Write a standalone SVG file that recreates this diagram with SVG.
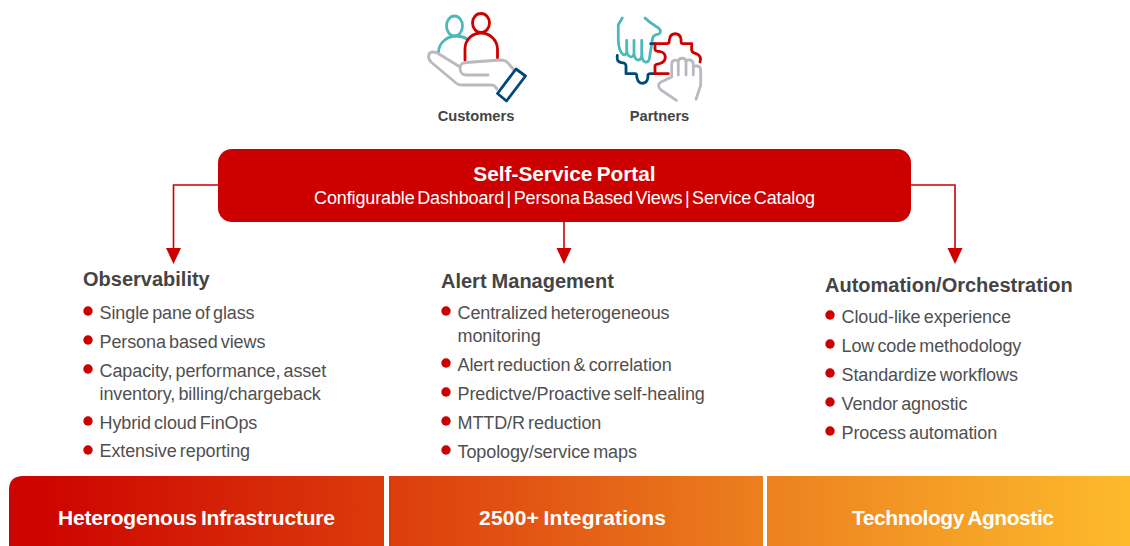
<svg xmlns="http://www.w3.org/2000/svg" width="1130" height="546" viewBox="0 0 1130 546">
<style>
text{font-family:"Liberation Sans",Arial,sans-serif}
.ic{fill:none;stroke-width:2.8;stroke-linecap:round;stroke-linejoin:round}
.teal{stroke:#4db8b8}.red{stroke:#cd0000}.grey{stroke:#b9b9c0}.navy{stroke:#00487c}
.lab{font-size:14.700px;font-weight:700;fill:#444;text-anchor:middle}
.h{font-size:20px;font-weight:700;fill:#444;word-spacing:-.5px}
.b{font-size:18px;fill:#505050;letter-spacing:-.1px;word-spacing:-1.7px}
.dot{fill:#cd0000}
.bt{font-size:21px;font-weight:700;fill:#fff;text-anchor:middle;word-spacing:-1.5px}
.conn{fill:none;stroke:#cd0000;stroke-width:1.6}
.head{fill:#cd0000}
</style>
<defs>
<linearGradient id="g" gradientUnits="userSpaceOnUse" x1="40" y1="0" x2="1130" y2="0">
<stop offset="0" stop-color="#cd0400"/><stop offset=".32" stop-color="#dc3c0c"/><stop offset=".66" stop-color="#ec7f1e"/><stop offset="1" stop-color="#fdbb2c"/>
</linearGradient>
</defs>
<g id="connectors">
<path class="conn" d="M218 185H173.500V248"/>
<path class="conn" d="M564 222V248"/>
<path class="conn" d="M911 185H955V248"/>
<path class="head" d="M166 248H181L173.500 264Z"/>
<path class="head" d="M556.500 248H571.500L564 264Z"/>
<path class="head" d="M947.500 248H962.500L955 264Z"/>
</g>
<g id="customers">
<ellipse class="ic teal" cx="454.500" cy="26" rx="8" ry="10"/>
<path class="ic teal" d="M438.500 52C439 42 448 36 456 36C460 36 464 37 467 39"/>
<ellipse class="ic red" cx="481" cy="23" rx="8.500" ry="9.500"/>
<path class="ic red" d="M465 60V49C465 39 473 33 481 33C489 33 497 39 497.500 49V58"/>
<path class="ic grey" d="M497 89L494 85.500C493 85 492 85 490 85H461C459 85 458 84.500 456 83L431 62C427 58 428 52 433 52C435 52 437 52 439 54L460 67"/>
<path class="ic grey" d="M488 75H466C462 75 460 72 460 68C460 64 462 63 466 62.500L500 60C504 60 506 60.500 508 63L514 70"/>
<path class="ic navy" d="M516 69L525.500 76L506.500 101L497.500 93.500Z"/>
<text class="lab" x="476" y="120.500">Customers</text>
</g>
<g id="partners">
<path class="ic teal" d="M622.300 18L618.300 24.700V40C618.500 46 620 52 623 54.500C625 55.500 626.700 54 626.700 51V40.300M626.700 50C627 58 634 59 634 53V40.300M634 53C634.500 62 641.700 62 641.700 55V40.300M641.700 55C642.500 64 649 64 649.500 58L651.700 43.700L652.700 38C653 35 656 34.500 658.500 34C661 33 661 30.500 659 28.500C654 25 649 22 645 18"/>
<path class="ic navy" d="M650.700 43.700H655M617.300 55.300C616.500 60 618 62 621 62.500C624 63 626 63 626 66V73.700H635C637.500 73.700 636.500 76 637 78C638.500 85 646.500 85 647.800 78C648.200 76 647 73.700 650 73.700H655"/>
<path class="ic red" d="M668.300 73.700H655V66C655 64 657 64.500 660 63.500C667 61.500 667 53 660 51.500C657 51 655 51.500 655 49V43.700H667C670 43.700 669 41 669.500 39C671 32 679.500 32 681 39C681.500 41 680 43.700 683 43.700H691.700V50C691.700 53 694 52.500 697 54C701 56 701 59 700 62"/>
<path class="ic grey" d="M676.500 100.300L661 90C657.500 87 658 83.500 661 82L671.700 77V64C672 59 678 59 678.300 63V75M678.300 62C678.500 57 685.800 57 686 62V75M686 62C686.500 59 693 59 693.300 64V75M693.300 68C694 65 700.500 65 700.700 70V85.300L696 99.300"/>
<text class="lab" x="659.500" y="120.500">Partners</text>
</g>
<g id="portal">
<rect x="218" y="149" width="693" height="73" rx="14" fill="#cd0000"/>
<text x="564.500" y="181" text-anchor="middle" font-size="20.800" font-weight="700" word-spacing="-1.500" fill="#fff">Self-Service Portal</text>
<text x="564.500" y="204" text-anchor="middle" font-size="18" letter-spacing="-.13" word-spacing="-2.300" fill="#fff">Configurable Dashboard | Persona Based Views | Service Catalog</text>
</g>
<g id="observability">
<text class="h" x="83" y="286">Observability</text>
<circle class="dot" cx="88" cy="311" r="4.700"/><text class="b" x="99.500" y="319">Single pane of glass</text>
<circle class="dot" cx="88" cy="340" r="4.700"/><text class="b" x="99.500" y="348">Persona based views</text>
<circle class="dot" cx="88" cy="369" r="4.700"/><text class="b" x="99.500" y="377">Capacity, performance, asset</text><text class="b" x="99.500" y="400">inventory, billing/chargeback</text>
<circle class="dot" cx="88" cy="421" r="4.700"/><text class="b" x="99.500" y="429">Hybrid cloud FinOps</text>
<circle class="dot" cx="88" cy="450" r="4.700"/><text class="b" x="99.500" y="457">Extensive reporting</text>
</g>
<g id="alert-management">
<text class="h" x="441" y="288">Alert Management</text>
<circle class="dot" cx="446" cy="311" r="4.700"/><text class="b" x="457.500" y="319">Centralized heterogeneous</text><text class="b" x="457.500" y="342">monitoring</text>
<circle class="dot" cx="446" cy="363" r="4.700"/><text class="b" x="457.500" y="371">Alert reduction &amp; correlation</text>
<circle class="dot" cx="446" cy="392" r="4.700"/><text class="b" x="457.500" y="400">Predictve/Proactive self-healing</text>
<circle class="dot" cx="446" cy="421" r="4.700"/><text class="b" x="457.500" y="429">MTTD/R reduction</text>
<circle class="dot" cx="446" cy="450" r="4.700"/><text class="b" x="457.500" y="458">Topology/service maps</text>
</g>
<g id="automation">
<text class="h" x="825" y="292">Automation/Orchestration</text>
<circle class="dot" cx="830" cy="315" r="4.700"/><text class="b" x="841.500" y="323">Cloud-like experience</text>
<circle class="dot" cx="830" cy="344" r="4.700"/><text class="b" x="841.500" y="352">Low code methodology</text>
<circle class="dot" cx="830" cy="373" r="4.700"/><text class="b" x="841.500" y="381">Standardize workflows</text>
<circle class="dot" cx="830" cy="402" r="4.700"/><text class="b" x="841.500" y="410">Vendor agnostic</text>
<circle class="dot" cx="830" cy="431" r="4.700"/><text class="b" x="841.500" y="439">Process automation</text>
</g>
<g id="band-infrastructure">
<path d="M9 546V490Q9 476 23 476H384V546Z" fill="url(#g)"/>
<text class="bt" x="196.500" y="525" textLength="277">Heterogenous Infrastructure</text>
</g>
<g id="band-integrations">
<rect x="389" y="476" width="374" height="70" fill="url(#g)"/>
<text class="bt" x="572.500" y="525" textLength="187">2500+ Integrations</text>
</g>
<g id="band-agnostic">
<path d="M767 476H1130V546H767Z" fill="url(#g)"/>
<text class="bt" x="953" y="525" textLength="202">Technology Agnostic</text>
</g>
</svg>
